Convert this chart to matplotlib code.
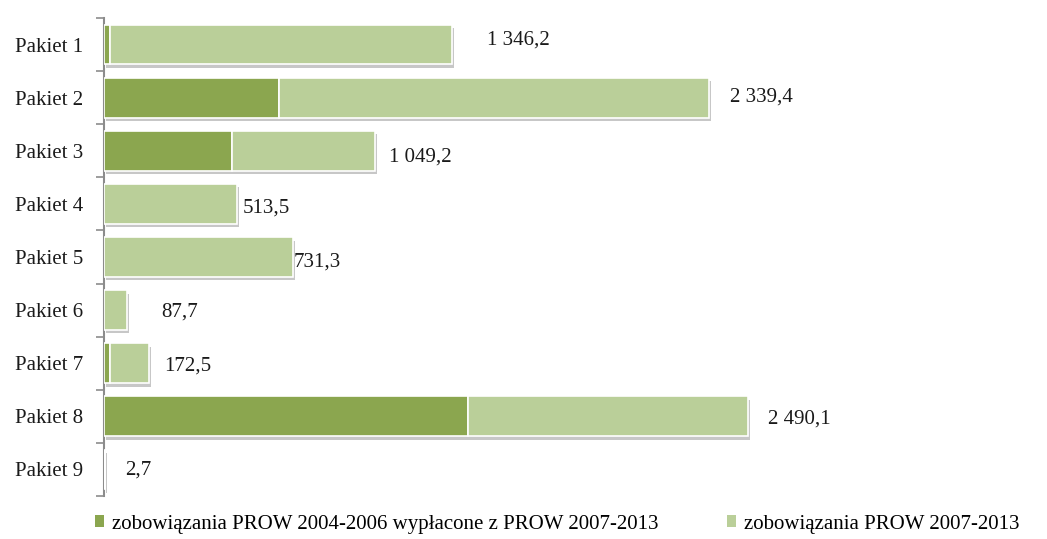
import matplotlib.pyplot as plt
import matplotlib.patheffects as pe
from matplotlib.patches import Patch

categories = ['Pakiet 1', 'Pakiet 2', 'Pakiet 3', 'Pakiet 4', 'Pakiet 5',
              'Pakiet 6', 'Pakiet 7', 'Pakiet 8', 'Pakiet 9']
# zobowiazania PROW 2004-2006 wyplacone z PROW 2007-2013 (dark part)
old_commit = [23, 677, 495, 0, 0, 0, 23, 1408, 0]
totals = [1346.2, 2339.4, 1049.2, 513.5, 731.3, 87.7, 172.5, 2490.1, 2.7]
new_commit = [t - o for t, o in zip(totals, old_commit)]
total_labels = ['1 346,2', '2 339,4', '1 049,2', '513,5', '731,3', '87,7', '172,5', '2 490,1', '2,7']

series_names = ['zobowiązania PROW 2004-2006 wypłacone z PROW 2007-2013',
                'zobowiązania PROW 2007-2013']

dark_green = '#8ba64f'
light_green = '#bacf99'
axis_grey = '#8c8c8c'
font = 'Liberation Serif'
fsize = 15

# label offsets from each bar end, in pixels (as Excel placed them)
label_dx_px = [35, 21, 14, 6, 1, 35, 16, 20, 20]
label_dy_px = [5, 1, -6, -3, -4, -1, -2, -2, 0]

fig = plt.figure(figsize=(10.47, 5.39), dpi=100)
ax = fig.add_axes([104 / 1047, 1 - 496 / 539, 931 / 1047, 478 / 539])

shadow = [pe.SimplePatchShadow(offset=(1.5, -2.5), shadow_rgbFace='#000000', alpha=0.22), pe.Normal()]
y = range(len(categories))
b1 = ax.barh(y, old_commit, height=0.75, color=dark_green, edgecolor='white', linewidth=1.2, zorder=3)
b2 = ax.barh(y, new_commit, left=old_commit, height=0.75, color=light_green, edgecolor='white', linewidth=1.2, zorder=3)
for bar in list(b1) + list(b2):
    if bar.get_width() > 0:
        bar.set_path_effects(shadow)

for i, (tot, lab) in enumerate(zip(totals, total_labels)):
    ax.annotate(lab, xy=(tot, i), xytext=(label_dx_px[i] * 0.72, label_dy_px[i] * 0.72 - 0.5),
                textcoords='offset points', va='center', ha='left', fontsize=fsize, family=font,
                color='#1a1a1a')

ax.set_xlim(0, 3600)
ax.set_ylim(len(categories) - 0.5, -0.5)
ax.set_yticks([i - 0.5 for i in range(len(categories) + 1)], minor=False)
ax.set_yticklabels([])
ax.set_yticks(list(y), minor=True)
ax.set_yticklabels(categories, minor=True)
ax.tick_params(axis='y', which='major', length=6, color=axis_grey, width=1.2)
ax.tick_params(axis='y', which='minor', length=0, pad=15, labelsize=fsize, labelcolor='#1a1a1a')
for t in ax.get_yticklabels(minor=True):
    t.set_family(font)
ax.set_xticks([])
for s in ['top', 'right', 'bottom']:
    ax.spines[s].set_visible(False)
ax.spines['left'].set_color(axis_grey)
ax.spines['left'].set_linewidth(1.5)

handles = [Patch(facecolor=dark_green, edgecolor='none'), Patch(facecolor=light_green, edgecolor='none')]
fig.legend(handles, series_names, loc='center left', bbox_to_anchor=(95 / 1047, 1 - 524 / 539), ncol=2,
           frameon=False, prop={'family': font, 'size': fsize}, handlelength=0.45, handleheight=0.45,
           handletextpad=0.35, columnspacing=3.3, borderpad=0, borderaxespad=0)

fig.savefig('out.png', dpi=100, facecolor='white')
